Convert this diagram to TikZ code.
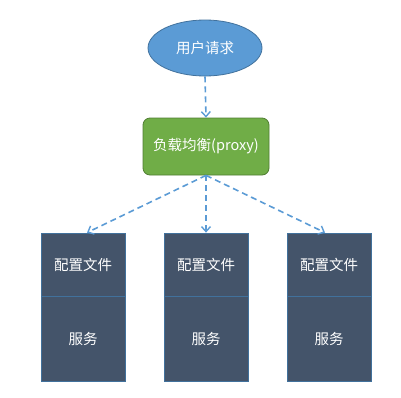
\documentclass[tikz,border=0pt]{standalone}
\usepackage{fontspec}
\newfontfamily\cjk{Noto Sans CJK SC}
\usetikzlibrary{shapes.geometric,arrows.meta}
\definecolor{ellfill}{HTML}{5B9BD5}
\definecolor{ellline}{HTML}{41719C}
\definecolor{grfill}{HTML}{70AD47}
\definecolor{grline}{HTML}{507E32}
\definecolor{boxfill}{HTML}{44546A}
\definecolor{boxline}{HTML}{41719C}
\definecolor{arrcol}{HTML}{5B9BD5}
\begin{document}
\begin{tikzpicture}[x=1pt,y=-1pt,
  lbl/.style={text=white,font=\cjk\fontsize{14.5}{17}\selectfont},
  reqnode/.style={ellipse,draw=ellline,fill=ellfill,line width=0.8pt,minimum width=114pt,minimum height=56pt,inner sep=0pt,lbl},
  proxynode/.style={rectangle,rounded corners=7pt,draw=grline,fill=grfill,line width=0.8pt,minimum width=126pt,minimum height=57pt,inner sep=0pt,lbl},
  secbox/.style={rectangle,draw=boxline,fill=boxfill,line width=0.8pt,minimum width=84pt,inner sep=0pt,lbl},
  conn/.style={draw=arrcol,line width=1.6pt,dash pattern=on 6pt off 4pt,-{Straight Barb[length=5pt,width=9pt,line width=1.4pt]}}
]
\useasboundingbox (0,0) rectangle (401,397);
\node[reqnode] (req) at (205,48) {用户请求};
\node[proxynode] (proxy) at (206,146.5) {负载均衡(proxy)};
\foreach \n/\x in {a/83, b/206, c/329}{
  \node[secbox,minimum height=63pt] (cfg\n) at (\x,264.5) {配置文件};
  \node[secbox,minimum height=85pt] (svc\n) at (\x,338.5) {服务};
}
\draw[conn] (req.south) -- (proxy.north);
\draw[conn] (proxy.south) -- ([xshift=4pt]cfga.north);
\draw[conn] (proxy.south) -- (cfgb.north);
\draw[conn] (proxy.south) -- ([xshift=-4pt]cfgc.north);
\end{tikzpicture}
\end{document}
